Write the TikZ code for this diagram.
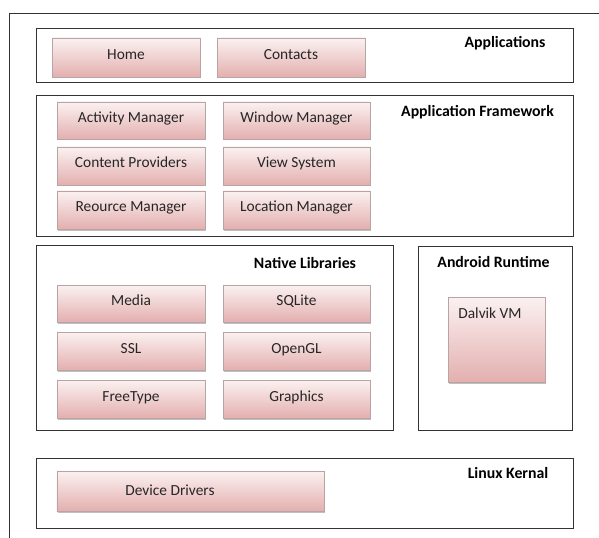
\documentclass[tikz,border=0pt]{standalone}
\usepackage{fontspec}
\setmainfont{Carlito}
\usetikzlibrary{shadows}
\definecolor{btntop}{HTML}{FBF1F1}
\definecolor{btnbot}{HTML}{E4AFAF}
\definecolor{btnedge}{HTML}{B8A4A4}
\definecolor{frameline}{HTML}{333333}
\definecolor{txt}{HTML}{262626}
\tikzset{
  layer/.style={draw=frameline, line width=0.9bp, fill=white, inner sep=0pt},
  btn/.style={draw=btnedge, line width=0.6bp, top color=btntop, bottom color=btnbot,
    inner sep=0pt, text=txt, font=\fontsize{15.4bp}{18bp}\selectfont,
    text height=10bp, text depth=6bp,
    drop shadow={shadow xshift=1bp, shadow yshift=-1.5bp, opacity=0.25, fill=black}},
  ttl/.style={inner sep=0pt, text=black, font=\fontsize{15.8bp}{18bp}\selectfont\bfseries},
  plain/.style={inner sep=0pt, text=txt, font=\fontsize{15.4bp}{18bp}\selectfont},
}
\begin{document}
\begin{tikzpicture}[x=1bp, y=-1bp]
\useasboundingbox (0,0) rectangle (599,538);
% outer frame (top and left edges)
\coordinate (fa) at (599,14);
\coordinate (fb) at (9,14);
\coordinate (fc) at (9,538);
\draw[frameline, line width=1bp] (fa) -- (fb) -- (fc);

% layers
\node[layer, minimum width=537bp, minimum height=54bp] (apps) at (304.5,55) {};
\node[layer, minimum width=537bp, minimum height=141bp] (fw) at (304.5,165.5) {};
\node[layer, minimum width=357bp, minimum height=185bp] (nl) at (214.5,337.5) {};
\node[layer, minimum width=154bp, minimum height=184bp] (ar) at (495,338) {};
\node[layer, minimum width=537bp, minimum height=70bp] (lk) at (304.5,493) {};

% titles
\node[ttl] (tapps) at (505,43) {Applications};
\node[ttl] (tfw) at (477.5,112) {Application Framework};
\node[ttl] (tnl) at (305,263) {Native Libraries};
\node[ttl] (tar) at (493.5,262) {Android Runtime};
\node[ttl] (tlk) at (508,473) {Linux Kernal};

% applications
\node[btn, minimum width=148bp, minimum height=39bp] (home) at (126,57.5) {Home};
\node[btn, minimum width=148bp, minimum height=39bp] (contacts) at (291,57.5) {Contacts};

% framework
\node[btn, minimum width=148bp, minimum height=37bp] (am) at (131,120.5) {Activity Manager};
\node[btn, minimum width=147bp, minimum height=37bp] (wm) at (296.5,120.5) {Window Manager};
\node[btn, minimum width=148bp, minimum height=38bp] (cp) at (131,166) {Content Providers};
\node[btn, minimum width=147bp, minimum height=38bp] (vs) at (296.5,166) {View System};
\node[btn, minimum width=148bp, minimum height=38bp] (rm) at (131,210) {Reource Manager};
\node[btn, minimum width=147bp, minimum height=38bp] (lm) at (296.5,210) {Location Manager};

% native libraries
\node[btn, minimum width=148bp, minimum height=37bp] (media) at (131,303.5) {Media};
\node[btn, minimum width=147bp, minimum height=37bp] (sqlite) at (296.5,303.5) {SQLite};
\node[btn, minimum width=148bp, minimum height=38bp] (ssl) at (131,351) {SSL};
\node[btn, minimum width=147bp, minimum height=38bp] (opengl) at (296.5,351) {OpenGL};
\node[btn, minimum width=148bp, minimum height=38bp] (ft) at (131,399) {FreeType};
\node[btn, minimum width=147bp, minimum height=38bp] (gfx) at (296.5,399) {Graphics};

% android runtime
\node[btn, minimum width=97bp, minimum height=85bp] (dvm) at (496.5,339.5) {};
\node[plain] (tdvm) at (490,313) {Dalvik VM};

% linux kernel
\node[btn, minimum width=267bp, minimum height=40bp] (dd) at (190.5,491) {};
\node[plain] (tdd) at (170,490) {Device Drivers};
\end{tikzpicture}
\end{document}
